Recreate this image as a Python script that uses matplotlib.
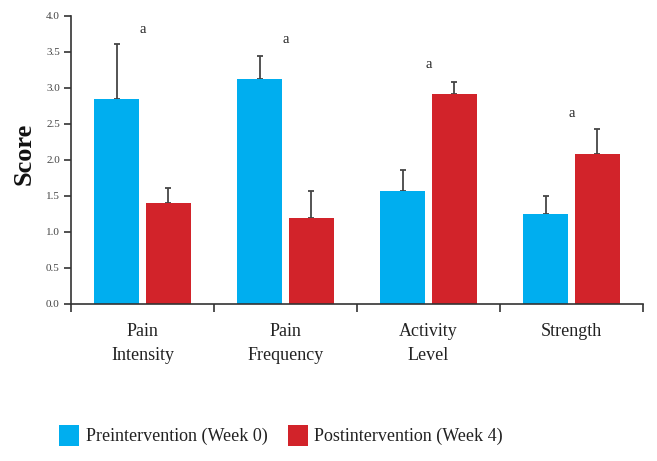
import matplotlib
matplotlib.use("Agg")
import matplotlib.pyplot as plt
from matplotlib.patches import Patch
import numpy as np

categories = ["Pain\nIntensity", "Pain\nFrequency", "Activity\nLevel", "Strength"]
pre_values = [2.85, 3.12, 1.57, 1.25]
pre_err = [0.76, 0.33, 0.29, 0.25]
post_values = [1.40, 1.19, 2.91, 2.08]
post_err = [0.21, 0.38, 0.17, 0.35]
sig_labels = ["a", "a", "a", "a"]
sig_y = [3.81, 3.67, 3.33, 2.64]
series_names = ["Preintervention (Week 0)", "Postintervention (Week 4)"]

blue = "#00AEEF"
red = "#D2232A"
errc = "#454545"

plt.rcParams['font.family'] = ['Liberation Serif', 'DejaVu Serif']

fig = plt.figure(figsize=(6.57, 4.61), dpi=100)
ax = fig.add_axes([0.108, 0.3406, 0.871, 0.6247])

x = np.arange(len(categories))
w = 0.315
off = 0.18
ax.bar(x - off, pre_values, w, color=blue, zorder=2)
ax.bar(x + off, post_values, w, color=red, zorder=2)
ekw = dict(fmt='none', ecolor=errc, elinewidth=1.3, capsize=2.5, capthick=1.3, zorder=1)
ax.errorbar(x - off, pre_values, yerr=[np.zeros(4), pre_err], **ekw)
ax.errorbar(x + off, post_values, yerr=[np.zeros(4), post_err], **ekw)

for xi, lab, yy in zip(x, sig_labels, sig_y):
    ax.text(xi, yy, lab, ha='center', va='center', fontsize=10.5, color='#222222')

ax.set_xlim(-0.5, 3.5)
ax.set_ylim(0, 4.0)
ax.set_yticks(np.arange(0, 4.01, 0.5))
ax.set_yticklabels([f"{v:.1f}" for v in np.arange(0, 4.01, 0.5)], fontsize=8, color='#444444')
ax.set_xticks(x)
ax.set_xticklabels(categories, fontsize=13, color='#222222', linespacing=1.5)
ax.tick_params(axis='x', which='major', length=0, pad=14)
ax.set_xticks(np.arange(-0.5, 3.51, 1.0), minor=True)
ax.tick_params(axis='x', which='minor', length=6, width=1.2, direction='out', color='#333333')
ax.tick_params(axis='y', length=5, width=1.2, direction='out', color='#333333', pad=3)

for s in ['top', 'right']:
    ax.spines[s].set_visible(False)
for s in ['left', 'bottom']:
    ax.spines[s].set_linewidth(1.2)
    ax.spines[s].set_color('#333333')

ax.set_ylabel("Score", fontsize=19, fontweight='bold', color='#111111')
ax.yaxis.set_label_coords(-0.062, 0.52)

handles = [Patch(facecolor=blue, edgecolor='none'), Patch(facecolor=red, edgecolor='none')]
fig.legend(handles, series_names, loc='center', bbox_to_anchor=(0.428, 0.056), ncol=2,
           frameon=False, fontsize=13, handlelength=1.1, handleheight=1.4,
           handletextpad=0.35, columnspacing=1.15, labelcolor='#222222')

fig.savefig("out.png", dpi=100)
